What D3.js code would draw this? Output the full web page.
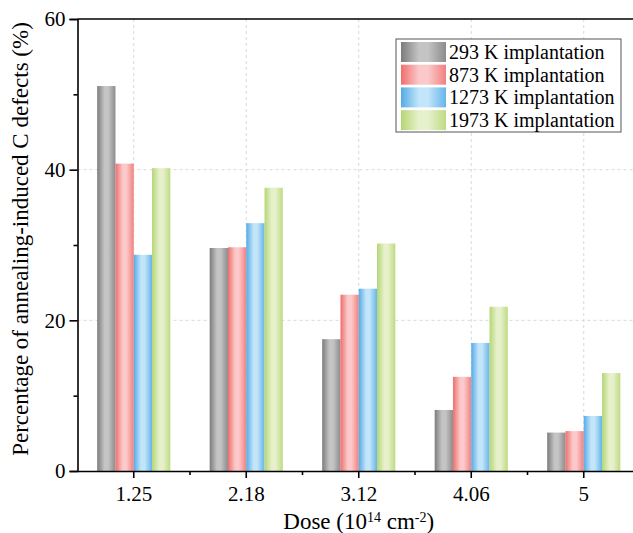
<!DOCTYPE html>
<html>
<head>
<meta charset="utf-8">
<script src="https://cdn.jsdelivr.net/npm/d3@7"></script>
<style>
  html, body { margin: 0; padding: 0; background: #fff; }
  svg { display: block; }
  svg text { font-family: 'Liberation Serif', 'Times New Roman', Times, 'DejaVu Serif', serif; fill: #000; }
</style>
</head>
<body>
<div id="chart"></div>
<script>
// data
const doses = ['1.25', '2.18', '3.12', '4.06', '5'];
const seriesNames = ['293 K implantation', '873 K implantation', '1273 K implantation', '1973 K implantation'];
const v293 = [51.1, 29.6, 17.5, 8.1, 5.1];
const v873 = [40.8, 29.7, 23.4, 12.5, 5.3];
const v1273 = [28.7, 32.9, 24.2, 17.0, 7.3];
const v1973 = [40.2, 37.6, 30.2, 21.8, 13.0];
const yMajorTicks = [0, 20, 40, 60];
const yMinorTicks = [10, 30, 50];

// edge / center colours for the shaded bars
const shades = [
    { edge: '#7c7c7c', mid: '#c4c4c4', edge2: '#8c8c8c' },
    { edge: '#ef6e6e', mid: '#fbc9c9', edge2: '#f28080' },
    { edge: '#55abe6', mid: '#c2e5f9', edge2: '#66b5ea' },
    { edge: '#b5d674', mid: '#e6f1cc', edge2: '#bedb82' }
];

const W = 633, H = 533;
const plotL = 77.5, plotR = 640, plotT = 19, plotB = 471;

const svg = d3.select('#chart').append('svg')
    .attr('width', W).attr('height', H)
    .attr('viewBox', `0 0 ${W} ${H}`);

const defs = svg.append('defs');
shades.forEach((s, i) => {
    const g = defs.append('linearGradient').attr('id', 'grad' + i)
        .attr('x1', '0%').attr('x2', '100%').attr('y1', '0%').attr('y2', '0%');
    g.append('stop').attr('offset', '0%').attr('stop-color', s.edge);
    g.append('stop').attr('offset', '40%').attr('stop-color', s.mid);
    g.append('stop').attr('offset', '60%').attr('stop-color', s.mid);
    g.append('stop').attr('offset', '100%').attr('stop-color', s.edge2);
});

const x0 = d3.scaleBand().domain(doses).range([plotL, plotR]).paddingInner(0).paddingOuter(0);
const x1 = d3.scaleBand().domain(d3.range(4)).range([x0.bandwidth() * 0.175, x0.bandwidth() * 0.825]);
const y = d3.scaleLinear().domain([0, 60]).range([plotB, plotT]);

// grid
const grid = svg.append('g').attr('stroke', '#d9d9d9').attr('stroke-dasharray', '3,3').attr('stroke-width', 1);
[20, 40].forEach(t => {
    grid.append('line').attr('x1', plotL).attr('x2', W).attr('y1', y(t)).attr('y2', y(t));
});
doses.forEach(d => {
    const cx = x0(d) + x0.bandwidth() / 2;
    grid.append('line').attr('x1', cx).attr('x2', cx).attr('y1', plotT).attr('y2', plotB);
});

// bars
const allSeries = [v293, v873, v1273, v1973];
allSeries.forEach((vals, si) => {
    svg.append('g').selectAll('rect')
        .data(vals)
        .join('rect')
        .attr('x', (v, i) => x0(doses[i]) + x1(si))
        .attr('y', v => y(v))
        .attr('width', x1.bandwidth())
        .attr('height', v => y(0) - y(v))
        .attr('fill', `url(#grad${si})`);
});

// axes
const yAxis = d3.axisLeft(y).tickValues(yMajorTicks).tickSize(8).tickFormat(d3.format('d'));
const gy = svg.append('g').attr('transform', `translate(${plotL},0)`).call(yAxis);
gy.attr('font-family', null);
gy.select('.domain').attr('stroke-width', 1.6);
gy.selectAll('.tick line').attr('stroke-width', 1.6);
gy.selectAll('.tick text').attr('font-size', 21).attr('x', -12);
svg.append('g').attr('transform', `translate(${plotL},0)`)
    .call(d3.axisLeft(y).tickValues(yMinorTicks).tickSize(4).tickFormat(''))
    .call(g => g.select('.domain').remove())
    .selectAll('.tick line').attr('stroke-width', 1.6);

const xAxis = d3.axisBottom(x0).tickSize(7).tickSizeOuter(0);
const gx = svg.append('g').attr('transform', `translate(0,${plotB})`).call(xAxis);
gx.attr('font-family', null);
gx.select('.domain').attr('stroke-width', 1.6);
gx.selectAll('.tick line').attr('stroke-width', 1.6);
gx.selectAll('.tick text').attr('font-size', 21).attr('y', 30).attr('dy', null);
// minor x ticks between groups
svg.append('g').selectAll('line')
    .data(doses.slice(0, 4))
    .join('line')
    .attr('x1', d => x0(d) + x0.bandwidth()).attr('x2', d => x0(d) + x0.bandwidth())
    .attr('y1', plotB).attr('y2', plotB + 4)
    .attr('stroke', '#000').attr('stroke-width', 1.6);

// top frame line
svg.append('line').attr('x1', plotL).attr('x2', W).attr('y1', plotT).attr('y2', plotT)
    .attr('stroke', '#000').attr('stroke-width', 1.6);

// axis titles
const xt = svg.append('text')
    .attr('x', (plotL + plotR) / 2).attr('y', 529)
    .attr('text-anchor', 'middle')
    .attr('font-size', 23);
xt.append('tspan').text('Dose (10');
xt.append('tspan').attr('font-size', 14).attr('dy', -7).text('14');
xt.append('tspan').attr('dy', 7).text(' cm');
xt.append('tspan').attr('font-size', 14).attr('dy', -7).text('-2');
xt.append('tspan').attr('dy', 7).text(')');

svg.append('text')
    .attr('transform', `translate(28,${(plotT + plotB) / 2 - 6}) rotate(-90)`)
    .attr('text-anchor', 'middle')
    .attr('font-size', 23)
    .text('Percentage of annealing-induced C defects (%)');

// legend
const legend = svg.append('g').attr('transform', 'translate(396,39)');
legend.append('rect').attr('width', 225).attr('height', 93)
    .attr('fill', '#fff').attr('stroke', '#555').attr('stroke-width', 1);
seriesNames.forEach((name, i) => {
    legend.append('rect').attr('x', 5).attr('y', 3 + i * 22.7)
        .attr('width', 45).attr('height', 20).attr('fill', `url(#grad${i})`);
    legend.append('text').attr('x', 53).attr('y', 13 + i * 22.7)
        .attr('dominant-baseline', 'central')
        .attr('font-size', 20)
        .text(name);
});
</script>
</body>
</html>
